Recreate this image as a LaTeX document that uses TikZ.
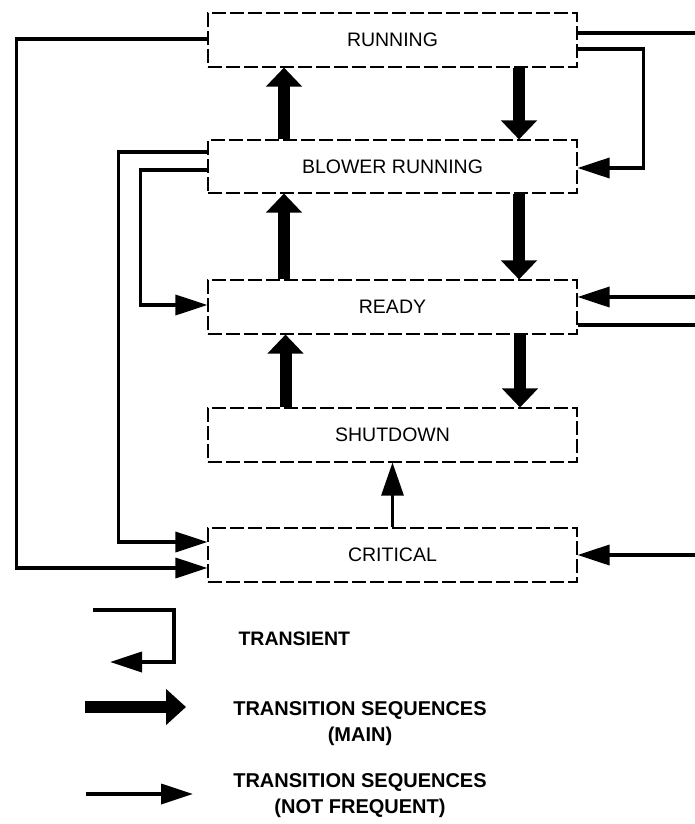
\documentclass[tikz,border=0pt]{standalone}
\usepackage{fontspec}
\setmainfont{Liberation Sans}
\usetikzlibrary{arrows.meta}

\begin{document}
\begin{tikzpicture}[x=1pt,y=-1pt,
  statebox/.style={draw, line width=1.1pt, dash pattern=on 14pt off 4pt,
    minimum width=369pt, minimum height=54pt, inner sep=0pt,
    font=\fontsize{19.5}{22}\selectfont},
  mainflow/.style={line width=12pt, -{Triangle[length=19pt,width=35pt]}},
  rareflow/.style={line width=3.5pt, line join=miter,
    -{Triangle[length=32pt,width=20pt]}},
  rareline/.style={line width=3.5pt, line join=miter},
  legendtext/.style={font=\bfseries\fontsize{20}{26}\selectfont, align=center}
]
\useasboundingbox (0,0) rectangle (695,824);

% states
\node[statebox] (run)   at (392.5,40)    {RUNNING};
\node[statebox, minimum height=53pt] (blow) at (392.5,166.5) {BLOWER RUNNING};
\node[statebox] (ready) at (392.5,307)   {READY};
\node[statebox] (shut)  at (392.5,435)   {SHUTDOWN};
\node[statebox] (crit)  at (392.5,555)   {CRITICAL};

% free ends at the right margin
\coordinate (rOutA) at (695,33);
\coordinate (rInB)  at (695,297);
\coordinate (rOutB) at (695,325);
\coordinate (rInC)  at (695,555);

% main transition sequences
\draw[mainflow] ([xshift=-108.5pt]blow.north) -- ([xshift=-108.5pt]run.south);
\draw[mainflow] ([xshift=126.5pt]run.south)   -- ([xshift=126.5pt]blow.north);
\draw[mainflow] ([xshift=-108.5pt]ready.north) -- ([xshift=-108.5pt]blow.south);
\draw[mainflow] ([xshift=126.5pt]blow.south)  -- ([xshift=126.5pt]ready.north);
\draw[mainflow] ([xshift=-107pt]shut.north)   -- ([xshift=-107pt]ready.south);
\draw[mainflow] ([xshift=127.5pt]ready.south) -- ([xshift=127.5pt]shut.north);

% critical to shutdown
\draw[line width=3pt, -{Triangle[length=33pt,width=22pt]}] (crit.north) -- (shut.south);

% left side transitions
\draw[rareflow] ([yshift=1pt]run.west) -- ++(-191,0) |- ([yshift=-13pt]crit.west);
\draw[rareflow] ([yshift=14.5pt]blow.west) -- ++(-89,0) |- ([yshift=13pt]crit.west);
\draw[rareflow] ([yshift=-3.5pt]blow.west) -- ++(-67,0) |- ([yshift=2pt]ready.west);

% right side transitions
\draw[rareline] ([yshift=7pt]run.east) -- (rOutA);
\draw[rareflow] ([yshift=-9pt]run.east) -- ++(66,0) |- ([yshift=-1.5pt]blow.east);
\draw[rareflow] (rInB) -- ([yshift=10pt]ready.east);
\draw[rareline] ([yshift=-18pt]ready.east) -- (rOutB);
\draw[rareflow] (rInC) -- (crit.east);

% legend
\coordinate (lgA0) at (93,610);
\coordinate (lgA1) at (110,662);
\draw[rareflow] (lgA0) -- ++(81,0) |- (lgA1);
\node[legendtext, anchor=west, font=\bfseries\fontsize{19.5}{24}\selectfont] (lgAtext) at (235,639) {TRANSIENT};

\coordinate (lgB0) at (85,707);
\coordinate (lgB1) at (186,707);
\draw[line width=12pt, -{Triangle[length=20pt,width=35pt]}] (lgB0) -- (lgB1);
\node[legendtext] (lgBtext) at (360,724) {TRANSITION SEQUENCES\\(MAIN)};

\coordinate (lgC0) at (86,794);
\coordinate (lgC1) at (193,794);
\draw[rareflow] (lgC0) -- (lgC1);
\node[legendtext] (lgCtext) at (360,795.5) {TRANSITION SEQUENCES\\(NOT FREQUENT)};
\end{tikzpicture}
\end{document}
